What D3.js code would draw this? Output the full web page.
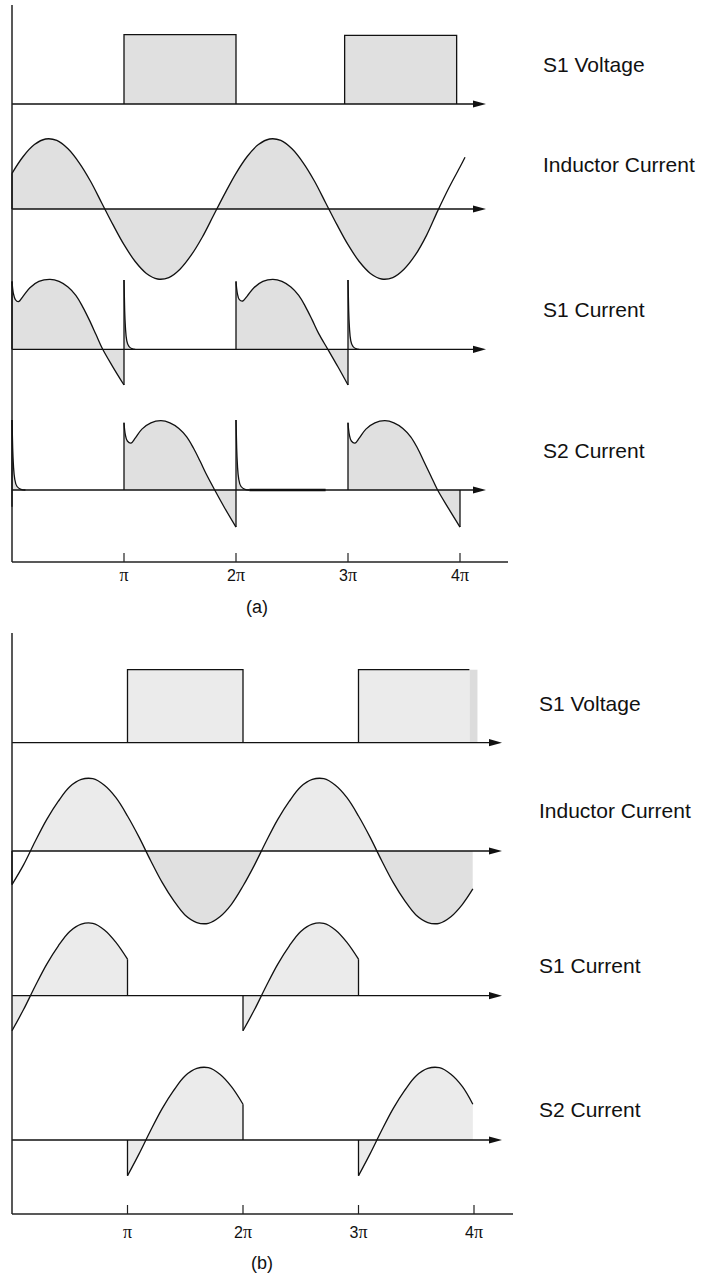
<!DOCTYPE html>
<html><head><meta charset="utf-8">
<script src="https://cdn.jsdelivr.net/npm/d3@7"></script>
<style>
body{margin:0;background:#fff}
text{font-family:"Liberation Sans",Arial,Helvetica,sans-serif;fill:#111}
</style>
</head><body>
<svg id="chart" width="701" height="1278"></svg>
<script>
// ---------------- DATA (x in units of pi, y normalised to peak = 1) ----------------
const tickValues = [1, 2, 3, 4];
const tickNumbers = ["", "2", "3", "4"];
const tickSymbol = "π";
const rowNames = ["S1 Voltage", "Inductor Current", "S1 Current", "S2 Current"];
const panelNames = ["(a)", "(b)"];

// ----- panel (a) -----
const aVoltagePulses = [[1.0, 2.0, 0.99, true], [2.97, 3.97, 0.98, true]];
const aInductor = [[0,0.51],[0.1,0.75],[0.2,0.92],[0.3,1.0],[0.4,0.98],[0.5,0.86],[0.6,0.66],[0.7,0.40],[0.8,0.09],
  [0.9,-0.22],[1.0,-0.51],[1.1,-0.75],[1.2,-0.92],[1.3,-1.0],[1.4,-0.98],[1.5,-0.86],[1.6,-0.66],[1.7,-0.40],[1.8,-0.09],
  [1.9,0.22],[2.0,0.51],[2.1,0.75],[2.2,0.92],[2.3,1.0],[2.4,0.98],[2.5,0.86],[2.6,0.66],[2.7,0.40],[2.8,0.09],
  [2.9,-0.22],[3.0,-0.51],[3.1,-0.75],[3.2,-0.92],[3.3,-1.0],[3.4,-0.98],[3.5,-0.86],[3.6,-0.66],[3.7,-0.38],[3.8,-0.03],
  [3.9,0.30],[4.0,0.60],[4.045,0.74]];
const aInductorFill = [[0, 3.8, "pos"]];
const aS1Current = [
  {pts:[[0,0.97],[0.012,0.80],[0.03,0.71],[0.057,0.68],[0.1,0.76],[0.16,0.88],[0.24,0.97],[0.34,1.0],[0.42,0.97],
        [0.5,0.89],[0.57,0.77],[0.63,0.61],[0.69,0.42],[0.75,0.21],[0.81,0.0],[0.9,-0.25],[1.0,-0.51]], from:0, to:0, fill:true},
  {pts:[[1.0,0.99],[1.006,0.55],[1.014,0.28],[1.025,0.12],[1.045,0.04],[1.07,0.01],[1.1,0]], from:0, to:null, fill:true, sharp:true},
  {pts:[[2.0,0.97],[2.012,0.80],[2.03,0.71],[2.06,0.69],[2.1,0.76],[2.16,0.88],[2.24,0.97],[2.33,1.0],[2.41,0.97],
        [2.49,0.89],[2.56,0.77],[2.62,0.61],[2.68,0.42],[2.74,0.22],[2.82,0.0],[2.91,-0.25],[3.0,-0.51]], from:0, to:0, fill:true},
  {pts:[[3.0,0.99],[3.006,0.55],[3.014,0.28],[3.025,0.12],[3.045,0.04],[3.07,0.01],[3.1,0]], from:0, to:null, fill:true, sharp:true}
];
const aS2Current = [
  {pts:[[0,1.0],[0.006,0.6],[0.014,0.32],[0.025,0.15],[0.045,0.05],[0.08,0.01],[0.12,0]], from:-0.24, to:null, fill:true, sharp:true},
  {pts:[[1.0,0.96],[1.012,0.79],[1.03,0.70],[1.063,0.67],[1.1,0.74],[1.16,0.87],[1.24,0.96],[1.33,0.99],[1.41,0.96],
        [1.49,0.88],[1.56,0.76],[1.62,0.60],[1.68,0.41],[1.74,0.21],[1.81,0.0],[1.9,-0.26],[2.0,-0.53]], from:0, to:0, fill:true},
  {pts:[[2.0,1.0],[2.006,0.6],[2.014,0.32],[2.025,0.15],[2.045,0.05],[2.08,0.01],[2.12,0]], from:0, to:null, fill:true, sharp:true},
  {pts:[[2.12,0],[2.8,0]], from:null, to:null, fill:false, heavy:true, sharp:true},
  {pts:[[3.0,0.96],[3.012,0.79],[3.03,0.70],[3.063,0.67],[3.1,0.74],[3.16,0.87],[3.24,0.96],[3.33,0.99],[3.41,0.96],
        [3.49,0.88],[3.56,0.76],[3.62,0.60],[3.68,0.40],[3.74,0.20],[3.80,0.0],[3.9,-0.27],[4.0,-0.53]], from:0, to:0, fill:true}
];

// ----- panel (b) -----
const bVoltagePulses = [[1.0, 2.0, 1.0, true], [3.0, 3.96, 1.0, false]];
const bVoltageTail = [[3.96, 4.03, 1.0]];
const bInductor = [[0,-0.46],[0.1,-0.19],[0.2,0.13],[0.3,0.43],[0.4,0.68],[0.5,0.88],[0.6,0.98],[0.7,0.99],[0.8,0.90],
  [0.9,0.73],[1.0,0.48],[1.1,0.19],[1.2,-0.13],[1.3,-0.43],[1.4,-0.68],[1.5,-0.88],[1.6,-0.98],[1.7,-0.99],[1.8,-0.90],
  [1.9,-0.73],[2.0,-0.48],[2.1,-0.19],[2.2,0.13],[2.3,0.43],[2.4,0.68],[2.5,0.88],[2.6,0.98],[2.7,0.99],[2.8,0.90],
  [2.9,0.73],[3.0,0.48],[3.1,0.19],[3.2,-0.13],[3.3,-0.43],[3.4,-0.68],[3.5,-0.88],[3.6,-0.98],[3.7,-0.99],[3.8,-0.90],
  [3.9,-0.73],[3.99,-0.52]];
const bInductorFill = [[0.156, 1.15, "pos"], [1.15, 2.165, "neg"], [2.165, 3.17, "pos"], [3.17, 3.99, "neg"]];
const bS1Current = [
  {pts:[[0,-0.48],[0.1,-0.19],[0.2,0.13],[0.3,0.43],[0.4,0.68],[0.5,0.88],[0.6,0.98],[0.7,0.99],[0.8,0.90],[0.9,0.73],[1.0,0.50]], from:null, to:0, fill:true},
  {pts:[[2.0,-0.48],[2.1,-0.19],[2.2,0.13],[2.3,0.43],[2.4,0.68],[2.5,0.88],[2.6,0.98],[2.7,0.99],[2.8,0.90],[2.9,0.73],[3.0,0.50]], from:0, to:0, fill:true}
];
const bS2Current = [
  {pts:[[1.0,-0.49],[1.1,-0.19],[1.2,0.13],[1.3,0.43],[1.4,0.68],[1.5,0.88],[1.6,0.98],[1.7,0.99],[1.8,0.90],[1.9,0.73],[2.0,0.49]], from:0, to:0, fill:true},
  {pts:[[3.0,-0.49],[3.1,-0.19],[3.2,0.13],[3.3,0.43],[3.4,0.68],[3.5,0.88],[3.6,0.98],[3.7,0.99],[3.8,0.90],[3.9,0.73],[3.99,0.49]], from:0, to:null, fill:true}
];

// ---------------- LAYOUT ----------------
const panels = [
  {name: panelNames[0], x0: 12, x4: 460, top: 5, axisY: 562, axisEnd: 508, arrowX: 486,
   baselines: [104, 209, 349.3, 490], amp: 70, labelX: 543, labelY: [72, 172, 317, 458],
   tickLabelY: 581, captionX: 257, captionY: 613,
   fill: "#e0e0e0", negFill: "#e0e0e0", tailFill: "#d6d6d6",
   pulses: aVoltagePulses, tail: [], inductor: aInductor, inductorFill: aInductorFill,
   s1: aS1Current, s2: aS2Current},
  {name: panelNames[1], x0: 12, x4: 474, top: 633, axisY: 1214, axisEnd: 513, arrowX: 502,
   baselines: [742.7, 851, 995.7, 1140], amp: 73, labelX: 539, labelY: [711, 818, 973, 1117],
   tickLabelY: 1238, captionX: 262, captionY: 1269,
   fill: "#ebebeb", negFill: "#e0e0e0", tailFill: "#dcdcdc",
   pulses: bVoltagePulses, tail: bVoltageTail, inductor: bInductor, inductorFill: bInductorFill,
   s1: bS1Current, s2: bS2Current}
];

const svg = d3.select("#chart");
const defs = svg.append("defs");
let clipId = 0;
const smooth = d3.curveCatmullRom.alpha(0.5);
const steep = d3.curveMonotoneX;

panels.forEach((p, pi) => {
  const g = svg.append("g");
  const x = d3.scaleLinear().domain([0, 4]).range([p.x0, p.x4]);
  const ys = p.baselines.map(b => d3.scaleLinear().domain([-1, 1]).range([b + p.amp, b - p.amp]));
  const fillLayer = g.append("g");
  const axisLayer = g.append("g");
  const lineLayer = g.append("g");

  // --- row 0: voltage pulses
  const y0 = ys[0];
  p.tail.forEach(t => {
    fillLayer.append("rect").attr("x", x(t[0])).attr("y", y0(t[2]))
      .attr("width", x(t[1]) - x(t[0])).attr("height", y0(0) - y0(t[2])).attr("fill", p.tailFill);
  });
  p.pulses.forEach(q => {
    fillLayer.append("rect").attr("x", x(q[0])).attr("y", y0(q[2]))
      .attr("width", x(q[1]) - x(q[0])).attr("height", y0(0) - y0(q[2])).attr("fill", p.fill);
    const path = d3.path();
    path.moveTo(x(q[0]), y0(0)); path.lineTo(x(q[0]), y0(q[2])); path.lineTo(x(q[1]), y0(q[2]));
    if (q[3]) path.lineTo(x(q[1]), y0(0));
    lineLayer.append("path").attr("d", path.toString()).attr("fill", "none")
      .attr("stroke", "#111").attr("stroke-width", 1.3);
  });

  // --- row 1: inductor current
  const y1 = ys[1];
  const area1 = d3.area().x(d => x(d[0])).y0(y1(0)).y1(d => y1(d[1])).curve(smooth);
  p.inductorFill.forEach(r => {
    const id = "clip" + (clipId++);
    defs.append("clipPath").attr("id", id).append("rect")
      .attr("x", x(r[0])).attr("y", 0).attr("width", x(r[1]) - x(r[0])).attr("height", 1278);
    fillLayer.append("path").attr("d", area1(p.inductor)).attr("clip-path", `url(#${id})`)
      .attr("fill", r[2] === "pos" ? p.fill : p.negFill);
  });
  const line1 = d3.line().x(d => x(d[0])).y(d => y1(d[1])).curve(smooth);
  lineLayer.append("path").attr("d", line1(p.inductor)).attr("fill", "none")
    .attr("stroke", "#111").attr("stroke-width", 1.3);
  lineLayer.append("line").attr("x1", x(p.inductor[0][0])).attr("x2", x(p.inductor[0][0]))
    .attr("y1", y1(0)).attr("y2", y1(p.inductor[0][1])).attr("stroke", "#111").attr("stroke-width", 1.3);

  // --- rows 2 & 3: switch currents
  [p.s1, p.s2].forEach((segs, k) => {
    const yy = ys[k + 2];
    segs.forEach(s => {
      const c = s.sharp ? steep : smooth;
      const area = d3.area().x(d => x(d[0])).y0(yy(0)).y1(d => yy(d[1])).curve(c);
      const line = d3.line().x(d => x(d[0])).y(d => yy(d[1])).curve(c);
      if (s.fill) fillLayer.append("path").attr("d", area(s.pts)).attr("fill", p.fill);
      lineLayer.append("path").attr("d", line(s.pts)).attr("fill", "none")
        .attr("stroke", "#111").attr("stroke-width", s.heavy ? 2.4 : 1.3);
      const a = s.pts[0], b = s.pts[s.pts.length - 1];
      if (s.from !== null) lineLayer.append("line").attr("x1", x(a[0])).attr("x2", x(a[0]))
        .attr("y1", yy(s.from)).attr("y2", yy(a[1])).attr("stroke", "#111").attr("stroke-width", 1.3);
      if (s.to !== null) lineLayer.append("line").attr("x1", x(b[0])).attr("x2", x(b[0]))
        .attr("y1", yy(b[1])).attr("y2", yy(s.to)).attr("stroke", "#111").attr("stroke-width", 1.3);
    });
  });

  // --- baselines with arrows
  ys.forEach(yy => {
    const by = yy(0);
    axisLayer.append("line").attr("x1", p.x0).attr("x2", p.arrowX - 10).attr("y1", by).attr("y2", by)
      .attr("stroke", "#111").attr("stroke-width", 1.3);
    axisLayer.append("path")
      .attr("d", `M${p.arrowX},${by} L${p.arrowX - 13},${by - 3.6} L${p.arrowX - 13},${by + 3.6} Z`)
      .attr("fill", "#111");
  });

  // --- left vertical axis and bottom axis
  axisLayer.append("line").attr("x1", p.x0).attr("x2", p.x0).attr("y1", p.top).attr("y2", p.axisY)
    .attr("stroke", "#222").attr("stroke-width", 1.5);
  axisLayer.append("line").attr("x1", p.x0).attr("x2", p.axisEnd).attr("y1", p.axisY).attr("y2", p.axisY)
    .attr("stroke", "#222").attr("stroke-width", 1.5);
  tickValues.forEach((t, i) => {
    axisLayer.append("line").attr("x1", x(t)).attr("x2", x(t)).attr("y1", p.axisY - 9).attr("y2", p.axisY)
      .attr("stroke", "#222").attr("stroke-width", 1.2);
    const tx = axisLayer.append("text").attr("x", x(t)).attr("y", p.tickLabelY).attr("text-anchor", "middle")
      .attr("font-size", 16);
    if (tickNumbers[i]) tx.append("tspan").text(tickNumbers[i]);
    tx.append("tspan").attr("font-family", "'Liberation Serif','Times New Roman',serif").attr("font-size", 18).text(tickSymbol);
  });

  // --- row labels & caption
  rowNames.forEach((n, i) => {
    g.append("text").attr("x", p.labelX).attr("y", p.labelY[i]).attr("font-size", 21).text(n);
  });
  g.append("text").attr("x", p.captionX).attr("y", p.captionY).attr("text-anchor", "middle")
    .attr("font-size", 18).text(p.name);
});
</script>
</body></html>
